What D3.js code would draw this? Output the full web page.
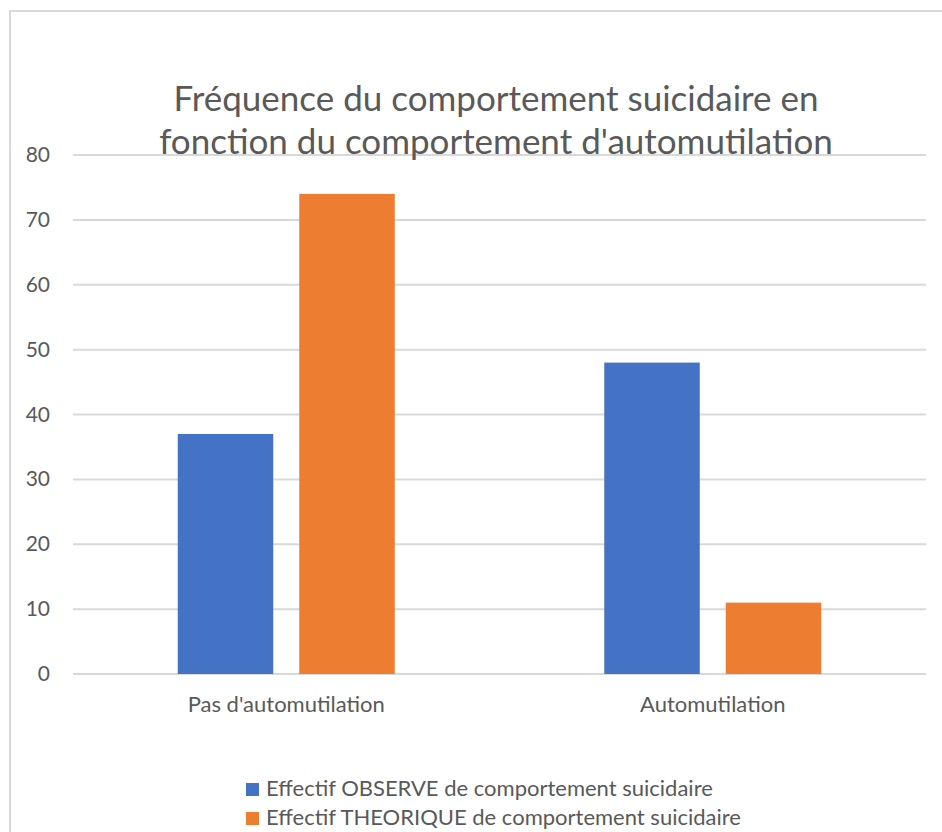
<!DOCTYPE html>
<html>
<head>
<meta charset="utf-8">
<script src="https://cdn.jsdelivr.net/npm/d3@7"></script>
<style>
  body { margin: 0; background: #fff; }
  text { font-family: Lato, "Open Sans", sans-serif; fill: #595959; }
</style>
</head>
<body>
<script>
const categories = ["Pas d'automutilation", "Automutilation"];
const seriesNames = ["Effectif OBSERVE de comportement suicidaire", "Effectif THEORIQUE de comportement suicidaire"];
const observed = [37, 48];
const theoretical = [74, 11];
const yTicks = [0, 10, 20, 30, 40, 50, 60, 70, 80];
const titleLines = ["Fréquence du comportement suicidaire en", "fonction du comportement d'automutilation"];
const colors = ["#4472C4", "#ED7D31"];

const width = 942, height = 832;
const plotLeft = 73, plotRight = 926, plotTop = 155, plotBottom = 674;

const svg = d3.select('body')
    .append('svg')
    .attr('width', width)
    .attr('height', height);

// chart frame (runs off the right and bottom edges)
svg.append('rect')
    .attr('x', 10).attr('y', 11)
    .attr('width', 1000).attr('height', 900)
    .attr('fill', 'none')
    .attr('stroke', '#D9D9D9')
    .attr('stroke-width', 2);

const y = d3.scaleLinear().domain([0, 80]).range([plotBottom, plotTop]);
const x = d3.scaleBand().domain(categories).range([plotLeft, plotRight]);
const xInner = d3.scaleBand().domain(seriesNames).range([0, x.bandwidth()])
    .paddingInner(0.214).paddingOuter(0.862);

// grid lines
svg.selectAll('line.grid')
    .data(yTicks)
    .enter()
    .append('line')
    .attr('class', 'grid')
    .attr('x1', plotLeft).attr('x2', plotRight)
    .attr('y1', d => y(d)).attr('y2', d => y(d))
    .attr('stroke', '#D9D9D9')
    .attr('stroke-width', 2);

// y tick labels
svg.selectAll('text.ytick')
    .data(yTicks)
    .enter()
    .append('text')
    .attr('class', 'ytick')
    .attr('x', 50)
    .attr('y', d => y(d) + 7)
    .attr('text-anchor', 'end')
    .style('font-size', '21px')
    .text(d => d);

// bars
const rows = categories.map((c, i) => ({ cat: c, values: [observed[i], theoretical[i]] }));
const groups = svg.selectAll('g.cat')
    .data(rows)
    .enter()
    .append('g')
    .attr('transform', d => 'translate(' + x(d.cat) + ',0)');

groups.selectAll('rect')
    .data(d => d.values.map((v, j) => ({ name: seriesNames[j], v: v, j: j })))
    .enter()
    .append('rect')
    .attr('x', d => xInner(d.name))
    .attr('width', xInner.bandwidth())
    .attr('y', d => y(d.v))
    .attr('height', d => y(0) - y(d.v))
    .attr('fill', d => colors[d.j]);

// x labels
svg.selectAll('text.xlab')
    .data(categories)
    .enter()
    .append('text')
    .attr('class', 'xlab')
    .attr('x', d => x(d) + x.bandwidth() / 2)
    .attr('y', 712)
    .attr('text-anchor', 'middle')
    .style('font-size', '22px')
    .text(d => d);

// title
svg.selectAll('text.title')
    .data(titleLines)
    .enter()
    .append('text')
    .attr('class', 'title')
    .attr('x', 496)
    .attr('y', (d, i) => 111 + i * 43)
    .attr('text-anchor', 'middle')
    .style('font-size', '35px')
    .text(d => d);

// legend
const legend = svg.selectAll('g.legend')
    .data(seriesNames)
    .enter()
    .append('g')
    .attr('transform', (d, i) => 'translate(246,' + (783 + i * 29) + ')');

legend.append('rect')
    .attr('width', 13).attr('height', 13)
    .attr('fill', (d, i) => colors[i]);

legend.append('text')
    .attr('x', 20)
    .attr('y', 13)
    .style('font-size', '22px')
    .text(d => d);
</script>
</body>
</html>
